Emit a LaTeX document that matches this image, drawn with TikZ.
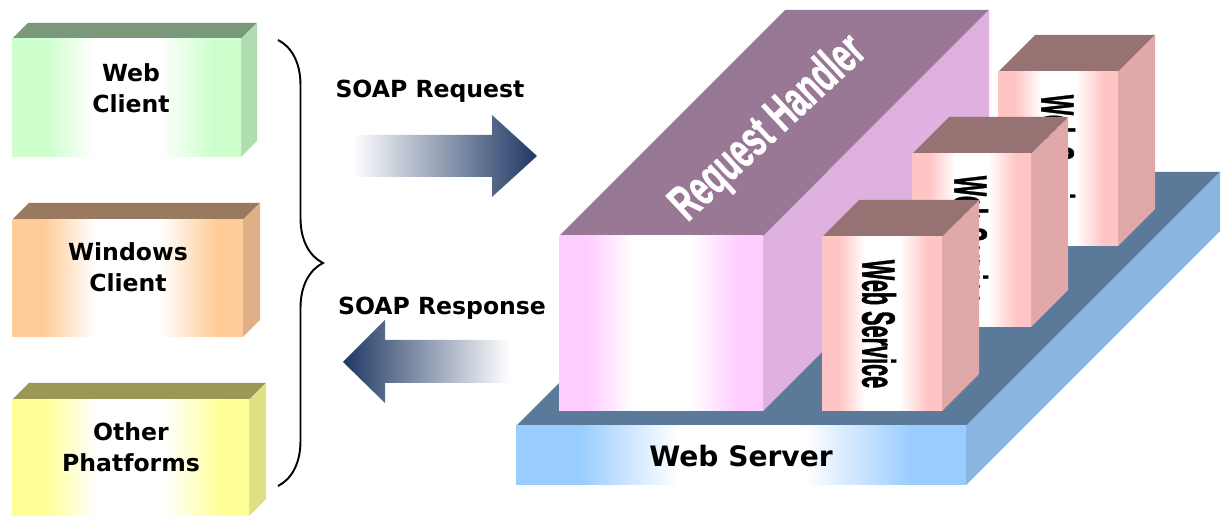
\documentclass[tikz,border=0pt]{standalone}
\usepackage{fontspec}
\setmainfont{DejaVu Sans}
\newfontfamily\condfont{Liberation Sans Bold}[FakeBold=1.5]
\usetikzlibrary{positioning,calc,decorations.pathreplacing}

\definecolor{webface}{RGB}{204,255,204}
\definecolor{webtop}{RGB}{122,153,122}
\definecolor{webside}{RGB}{176,221,176}
\definecolor{winface}{RGB}{255,204,153}
\definecolor{wintop}{RGB}{153,122,94}
\definecolor{winside}{RGB}{223,176,133}
\definecolor{othface}{RGB}{255,255,153}
\definecolor{othtop}{RGB}{153,153,85}
\definecolor{othside}{RGB}{223,223,133}
\definecolor{rhface}{RGB}{255,204,255}
\definecolor{rhtop}{RGB}{153,120,150}
\definecolor{rhside}{RGB}{224,176,224}
\definecolor{wsface}{RGB}{255,196,196}
\definecolor{wstop}{RGB}{150,115,114}
\definecolor{wsside}{RGB}{224,168,168}
\definecolor{srvface}{RGB}{153,204,255}
\definecolor{srvtop}{RGB}{91,122,154}
\definecolor{srvside}{RGB}{138,180,224}
\definecolor{soapblue}{RGB}{31,56,100}

% front faces: colour at both edges, white in the middle
\newcommand{\fadeface}[1]{%
  \pgfdeclarehorizontalshading{#1fade}{100bp}{color(0bp)=(#1face); color(25bp)=(#1face);
    color(32bp)=(#1face); color(43bp)=(white); color(57bp)=(white); color(69bp)=(#1face);
    color(75bp)=(#1face); color(100bp)=(#1face)}}
\fadeface{web}\fadeface{win}\fadeface{oth}\fadeface{rh}\fadeface{ws}\fadeface{srv}

% block: x, y of front top left, width, height, depth, colour prefix
\newcommand{\block}[6]{%
  \fill[#6top] (#1,#2) -- ++(#5,-#5) -- ++(#3,0) -- ++(-#5,#5) -- cycle;
  \fill[#6side] (#1+#3,#2) -- ++(#5,-#5) -- ++(0,#4) -- ++(-#5,#5) -- cycle;
  \shade[shading=#6fade] (#1,#2) rectangle ++(#3,#4);}

\tikzset{
  lbl/.style={font=\bfseries\fontsize{13.4}{17.6}\selectfont, align=center, inner sep=0pt},
  srvlbl/.style={font=\bfseries\fontsize{16}{19}\selectfont, inner sep=0pt},
  rhlbl/.style={font=\condfont\fontsize{28.5}{30}\selectfont, text=white, rotate=43, xscale=0.62, inner sep=0pt},
  wslbl/.style={font=\condfont\fontsize{26.5}{28}\selectfont, rotate=-90, xscale=0.465, inner sep=0pt},
  curly/.style={decorate, decoration={brace, amplitude=0.9cm}, line width=1.1pt},
}

\begin{document}
\begin{tikzpicture}[x=0.02cm, y=-0.02cm]
\useasboundingbox (0,0) rectangle (1221,516);
% clients
\block{12}{39}{229}{118}{16}{web}
\node[lbl] (webc) at (131,88) {Web\\Client};
\block{12}{220}{231}{117}{17}{win}
\node[lbl] (winc) at (128,267) {Windows\\Client};
\block{12}{400}{237}{116}{17}{oth}
\node[lbl] (othc) at (131,447) {Other\\Phatforms};
% brace
\coordinate (bracetop) at (278,40);
\coordinate (bracebot) at (278,486);
\draw[curly] (bracetop) -- (bracebot);
% soap request
\node[lbl, anchor=base] (req) at (430,98) {SOAP Request};
\shade[left color=white, right color=soapblue] (352,135) -- (492,135) -- (492,115) -- (537,156)
  -- (492,197) -- (492,177) -- (352,177) -- cycle;
% soap response
\node[lbl, anchor=base] (resp) at (442,315) {SOAP Response};
\shade[left color=soapblue, right color=white] (343,362) -- (385,320) -- (385,340) -- (510,340)
  -- (510,383) -- (385,383) -- (385,403) -- cycle;
% web server
\block{516}{426}{450}{59}{254}{srv}
\node[srvlbl, anchor=base] (srv) at (741,467) {Web Server};
% request handler
\block{559}{236}{204}{175}{226}{rh}
\node[rhlbl] (rh) at (769,129) {Request Handler};
% web services, back to front
\block{998}{72}{120}{174}{37}{ws}
\node[wslbl] (ws3) at (1058,159) {Web Service};
\block{912}{154}{119}{173}{37}{ws}
\node[wslbl] (ws2) at (971,240) {Web Service};
\block{822}{237}{120}{174}{37}{ws}
\node[wslbl] (ws1) at (879,324) {Web Service};
\end{tikzpicture}
\end{document}
